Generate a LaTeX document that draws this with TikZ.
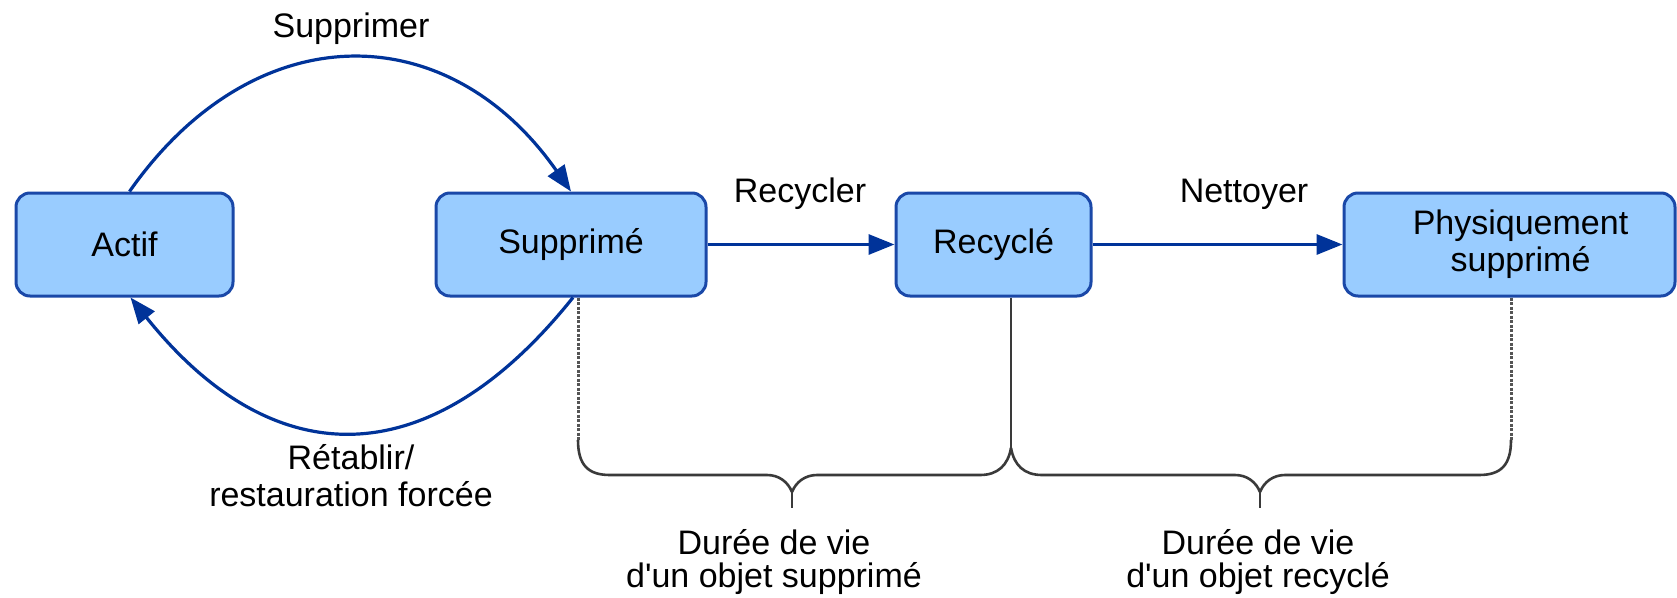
\documentclass[tikz,border=0pt]{standalone}
\usepackage{fontspec}
\setmainfont{Liberation Sans}
\usetikzlibrary{arrows.meta}
\definecolor{boxfill}{HTML}{99CCFF}
\definecolor{boxline}{HTML}{1A48A8}
\definecolor{arrowblue}{HTML}{003399}
\definecolor{bracegray}{HTML}{3A3A3A}
\definecolor{dotgray}{HTML}{555555}
\begin{document}
\begin{tikzpicture}[x=1pt,y=-1pt,
  font=\fontsize{34}{36}\selectfont,
  state/.style={draw=boxline, fill=boxfill, line width=3pt, rounded corners=14pt,
    minimum height=103pt, inner sep=0pt, align=center},
  flow/.style={draw=arrowblue, line width=3.2pt, -{Triangle[length=26pt,width=20pt]}},
  braceline/.style={draw=bracegray, line width=2.6pt},
  dotline/.style={draw=dotgray, line width=3pt, dash pattern=on 3pt off 1.5pt},
  lbl/.style={inner sep=0pt, align=center}]
\path[use as bounding box, clip] (0,0) rectangle (1677,597);

\node[state, minimum width=217pt] (actif) at (124.5,244.5) {Actif};
\node[state, minimum width=270pt] (supp) at (571,244.5) {Supprimé};
\node[state, minimum width=195pt] (rec) at (993.5,244.5) {Recyclé};
\node[state, minimum width=331pt, font=\fontsize{34}{37}\selectfont] (phys) at (1509.5,244.5)
  {\hspace*{22pt}Physiquement\\\hspace*{22pt}supprimé};

% transitions
\draw[flow] ([xshift=5pt]actif.north) .. controls +(124,-177) and +(-124,-177) .. (supp.north);
\draw[flow] ([xshift=2pt]supp.south) .. controls +(-143,179) and +(143,179) .. ([xshift=6pt]actif.south);
\draw[flow] (supp.east) -- (rec.west);
\draw[flow] (rec.east) -- (phys.west);

\node[lbl] (lsup) at (351,29) {Supprimer};
\node[lbl] (lrec) at (800,194) {Recycler};
\node[lbl] (lnet) at (1244,194) {Nettoyer};
\node[lbl, font=\fontsize{34}{37}\selectfont] (lret) at (351,476) {Rétablir/\\restauration forcée};

% braces
\coordinate (b1top) at (578,440);
\coordinate (split) at (1011,448);
\coordinate (b2top) at (1511,440);
\coordinate (tip1) at (792,492);
\coordinate (tip2) at (1260,492);

\draw[dotline] ([xshift=7pt]supp.south) -- (b1top);
\draw[braceline] ([xshift=17.5pt]rec.south) -- (split);
\draw[dotline] ([xshift=1.5pt]phys.south) -- (b2top);

\draw[braceline] (b1top) .. controls (578,465) and (588,475) .. (610,475) -- (767,475)
  .. controls (779,475) and (788,482) .. (tip1);
\draw[braceline] (tip1) .. controls (796,482) and (805,475) .. (817,475) -- (980,475)
  .. controls (998,475) and (1008,465) .. (split);
\draw[braceline] (tip1) -- (792,508);

\draw[braceline] (split) .. controls (1014,465) and (1024,475) .. (1042,475) -- (1235,475)
  .. controls (1247,475) and (1256,482) .. (tip2);
\draw[braceline] (tip2) .. controls (1264,482) and (1273,475) .. (1285,475) -- (1479,475)
  .. controls (1501,475) and (1511,465) .. (b2top);
\draw[braceline] (tip2) -- (1260,508);

\node[lbl, font=\fontsize{34}{33}\selectfont] (ldur1) at (774,562) {Durée de vie\\d\textquotesingle un objet supprimé};
\node[lbl, font=\fontsize{34}{33}\selectfont] (ldur2) at (1258,562) {Durée de vie\\d\textquotesingle un objet recyclé};
\end{tikzpicture}
\end{document}
